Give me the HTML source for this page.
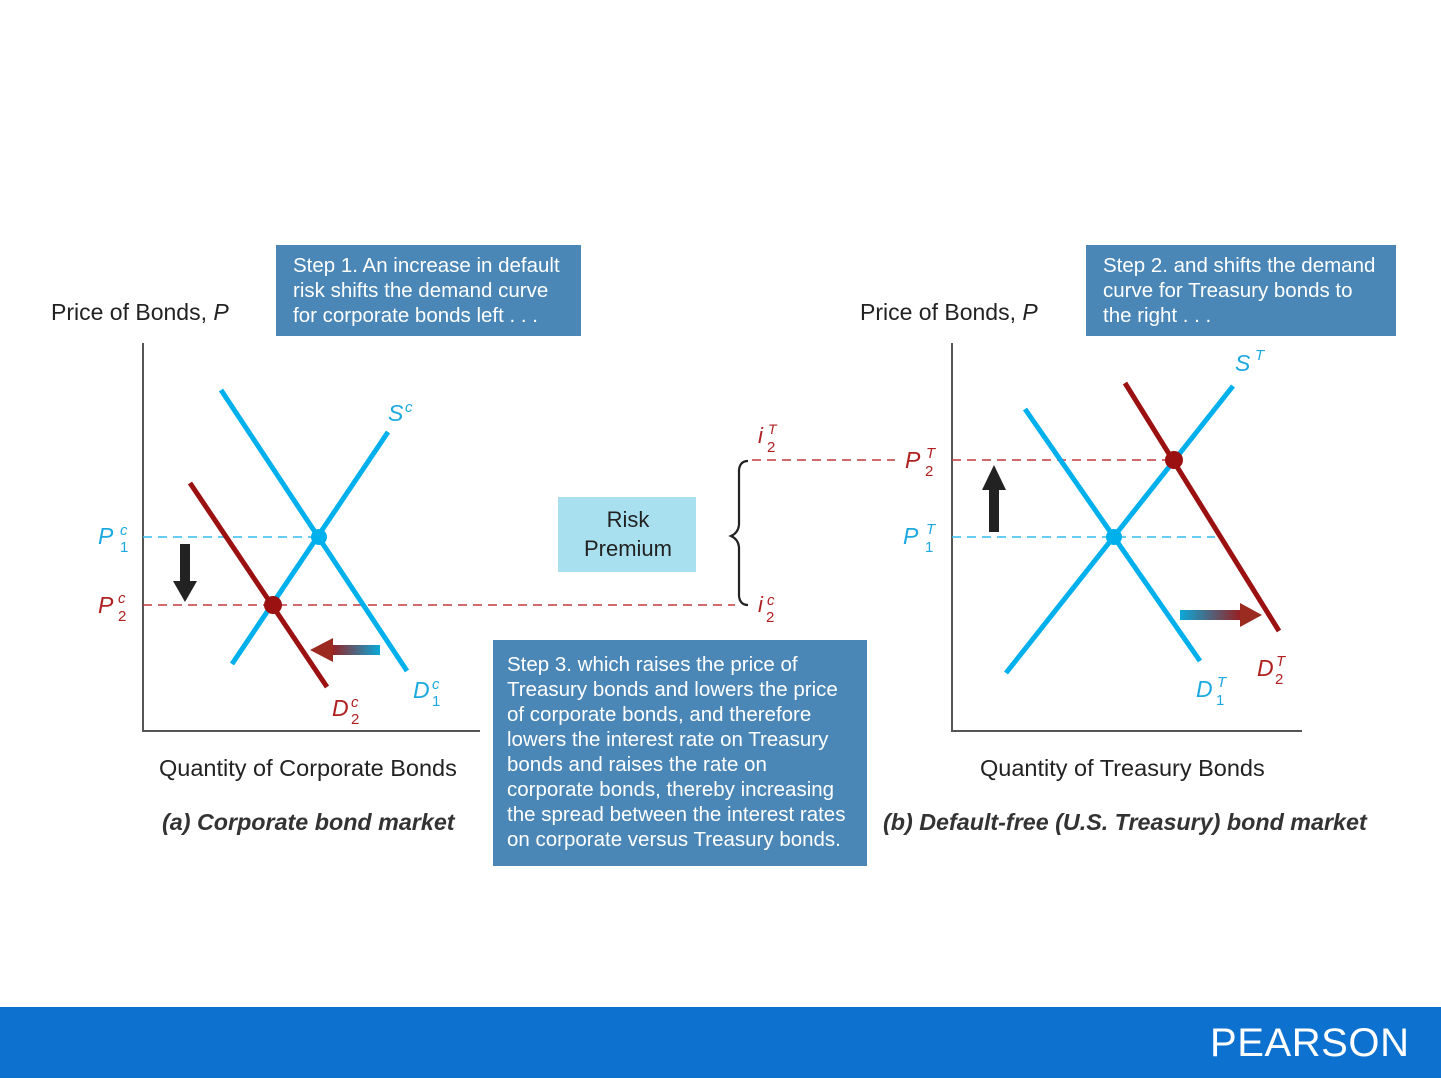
<!DOCTYPE html>
<html><head><meta charset="utf-8"><style>
body{margin:0;width:1441px;height:1081px;overflow:hidden;background:#fff;font-family:"Liberation Sans",sans-serif}
svg{position:absolute;left:0;top:0}
.box{position:absolute;background:#4a87b7;color:#fff;font-size:20.5px;line-height:25px;padding:8px 12px 0 17px;box-sizing:border-box}
.t{position:absolute;font-size:23.5px;color:#222;white-space:nowrap}
</style></head><body>
<svg width="1441" height="1081" xmlns="http://www.w3.org/2000/svg">
<defs>
<linearGradient id="gl" x1="0" x2="1"><stop offset="0" stop-color="#9b1c1c"/><stop offset="1" stop-color="#0aa8d8"/></linearGradient>
<linearGradient id="gr" x1="0" x2="1"><stop offset="0" stop-color="#0aa8d8"/><stop offset="1" stop-color="#9b1c1c"/></linearGradient>
</defs>
<g font-family="Liberation Sans, sans-serif" font-style="italic">
<polyline points="143,343 143,731 480,731" fill="none" stroke="#555" stroke-width="2"/>
<line x1="143" y1="537" x2="319" y2="537" stroke="#33bbee" stroke-width="1.6" stroke-dasharray="9,6"/>
<line x1="143" y1="605" x2="735" y2="605" stroke="#c0393b" stroke-width="1.6" stroke-dasharray="9,6"/>
<line x1="221" y1="390" x2="407" y2="671" stroke="#00b0ec" stroke-width="5"/>
<line x1="232" y1="664" x2="388" y2="432" stroke="#00b0ec" stroke-width="5"/>
<line x1="190" y1="483" x2="327" y2="687" stroke="#9b1010" stroke-width="5"/>
<circle cx="319" cy="537" r="8" fill="#00b0ec"/>
<circle cx="273" cy="605" r="9" fill="#9b1010"/>
<rect x="180" y="544" width="10" height="40" fill="#222"/><polygon points="173,581 197,581 185,602" fill="#222"/>
<rect x="330" y="645" width="50" height="10" fill="url(#gl)"/><polygon points="333,638 333,662 310,650" fill="#9b2a20"/>
<text x="388" y="421" font-size="23" fill="#1ba9e0">S</text><text x="405" y="412" font-size="15" fill="#1ba9e0">c</text>
<text x="98" y="544" font-size="23" fill="#1ba9e0">P</text><text x="120" y="535" font-size="15" fill="#1ba9e0">c</text><text x="120" y="552" font-size="15" fill="#1ba9e0" font-style="normal">1</text>
<text x="98" y="613" font-size="23" fill="#b02020">P</text><text x="118" y="603" font-size="15" fill="#b02020">c</text><text x="118" y="621" font-size="15" fill="#b02020" font-style="normal">2</text>
<text x="413" y="698" font-size="23" fill="#1ba9e0">D</text><text x="432" y="689" font-size="15" fill="#1ba9e0">c</text><text x="432" y="706" font-size="15" fill="#1ba9e0" font-style="normal">1</text>
<text x="332" y="716" font-size="23" fill="#b02020">D</text><text x="351" y="707" font-size="15" fill="#b02020">c</text><text x="351" y="724" font-size="15" fill="#b02020" font-style="normal">2</text>
<line x1="752" y1="460" x2="895" y2="460" stroke="#c0393b" stroke-width="1.6" stroke-dasharray="9,6"/>
<path d="M748,461 Q740,461 739,470 L739,525 Q738,533 731,536 Q738,539 739,547 L739,596 Q740,605 748,605" fill="none" stroke="#222" stroke-width="2.2"/>
<text x="758" y="443" font-size="22" fill="#b02020">i</text><text x="768" y="434" font-size="14" fill="#b02020">T</text><text x="767" y="452" font-size="15" fill="#b02020" font-style="normal">2</text>
<text x="758" y="612" font-size="22" fill="#b02020">i</text><text x="767" y="605" font-size="15" fill="#b02020">c</text><text x="766" y="622" font-size="15" fill="#b02020" font-style="normal">2</text>
<rect x="558" y="497" width="138" height="75" fill="#a8e0f0"/>
<text x="628" y="527" font-size="22" fill="#222" font-style="normal" text-anchor="middle">Risk</text>
<text x="628" y="556" font-size="22" fill="#222" font-style="normal" text-anchor="middle">Premium</text>
<polyline points="952,343 952,731 1302,731" fill="none" stroke="#555" stroke-width="2"/>
<line x1="952" y1="460" x2="1174" y2="460" stroke="#c0393b" stroke-width="1.6" stroke-dasharray="9,6"/>
<line x1="952" y1="537" x2="1215" y2="537" stroke="#33bbee" stroke-width="1.6" stroke-dasharray="9,6"/>
<line x1="1025" y1="409" x2="1200" y2="661" stroke="#00b0ec" stroke-width="5"/>
<line x1="1006" y1="673" x2="1233" y2="386" stroke="#00b0ec" stroke-width="5"/>
<line x1="1125" y1="383" x2="1279" y2="631" stroke="#9b1010" stroke-width="5"/>
<circle cx="1114" cy="537" r="8" fill="#00b0ec"/>
<circle cx="1174" cy="460" r="9" fill="#9b1010"/>
<rect x="989" y="488" width="10" height="44" fill="#222"/><polygon points="982,490 1006,490 994,465" fill="#222"/>
<rect x="1180" y="610" width="62" height="10" fill="url(#gr)"/><polygon points="1240,603 1240,627 1262,615" fill="#9b2a20"/>
<text x="1235" y="371" font-size="23" fill="#1ba9e0">S</text><text x="1255" y="360" font-size="15" fill="#1ba9e0">T</text>
<text x="905" y="468" font-size="23" fill="#b02020">P</text><text x="926" y="458" font-size="15" fill="#b02020">T</text><text x="925" y="476" font-size="15" fill="#b02020" font-style="normal">2</text>
<text x="903" y="544" font-size="23" fill="#1ba9e0">P</text><text x="926" y="534" font-size="15" fill="#1ba9e0">T</text><text x="925" y="552" font-size="15" fill="#1ba9e0" font-style="normal">1</text>
<text x="1196" y="697" font-size="23" fill="#1ba9e0">D</text><text x="1217" y="687" font-size="15" fill="#1ba9e0">T</text><text x="1216" y="705" font-size="15" fill="#1ba9e0" font-style="normal">1</text>
<text x="1257" y="676" font-size="23" fill="#b02020">D</text><text x="1276" y="666" font-size="15" fill="#b02020">T</text><text x="1275" y="684" font-size="15" fill="#b02020" font-style="normal">2</text>
</g>
<rect x="0" y="1007" width="1441" height="71" fill="#0d72cf"/>
<text x="1310" y="1056" font-family="Liberation Sans, sans-serif" font-size="40" fill="#fff" text-anchor="middle" letter-spacing="1" textLength="200">PEARSON</text>
</svg>
<div class="t" style="left:51px;top:299px;font-size:23px">Price of Bonds, <i>P</i></div>
<div class="t" style="left:860px;top:299px;font-size:23px">Price of Bonds, <i>P</i></div>
<div class="t" style="left:159px;top:755px">Quantity of Corporate Bonds</div>
<div class="t" style="left:980px;top:755px">Quantity of Treasury Bonds</div>
<div class="t" style="left:162px;top:809px;font-style:italic;font-weight:bold;color:#333;font-size:23.3px">(a) Corporate bond market</div>
<div class="t" style="left:883px;top:809px;font-style:italic;font-weight:bold;color:#333;font-size:23.3px">(b) Default-free (U.S. Treasury) bond market</div>
<div class="box" style="left:276px;top:245px;width:305px;height:91px">Step 1. An increase in default risk shifts the demand curve for corporate bonds left . . .</div>
<div class="box" style="left:1086px;top:245px;width:310px;height:91px">Step 2. and shifts the demand curve for Treasury bonds to the right . . .</div>
<div class="box" style="left:493px;top:640px;width:374px;height:226px;padding:12px 12px 0 14px">Step 3. which raises the price of Treasury bonds and lowers the price of corporate bonds, and therefore lowers the interest rate on Treasury bonds and raises the rate on corporate bonds, thereby increasing the spread between the interest rates on corporate versus Treasury bonds.</div>
</body></html>
